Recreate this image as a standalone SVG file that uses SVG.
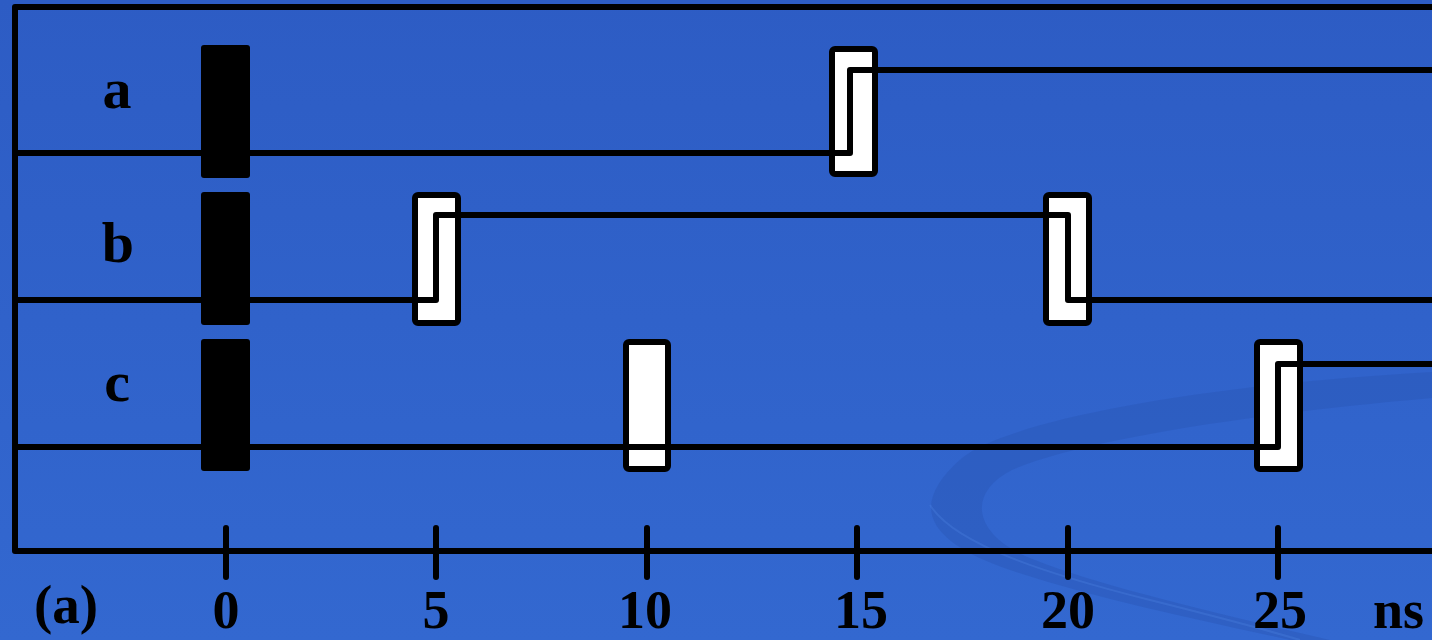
<svg xmlns="http://www.w3.org/2000/svg" width="1432" height="640" viewBox="0 0 1432 640">
  <defs>
    <linearGradient id="bg" x1="0" y1="0" x2="0" y2="1">
      <stop offset="0" stop-color="#2d5cc4"/>
      <stop offset="1" stop-color="#3368d0"/>
    </linearGradient>
    <style>
      .ln { fill: none; stroke: #000; stroke-width: 6; stroke-linejoin: round; stroke-linecap: butt; }
      .tick { stroke: #000; stroke-width: 6; stroke-linecap: round; }
      .blk { fill: #000; }
      .wbox { fill: #fff; stroke: #000; stroke-width: 6; }
      .lbl { font-family: "Liberation Serif", "Times New Roman", serif; font-weight: bold; fill: #000; }
    </style>
  </defs>
  <rect x="0" y="0" width="1432" height="640" fill="url(#bg)"/>
  <g id="swoosh">
    <path d="M1432,372 C1200,385 1010,420 962,458 C910,503 922,540 1010,570 C1100,600 1200,620 1290,640 L1330,640 C1210,612 1085,582 1025,556 C972,532 968,492 1012,470 C1080,440 1250,414 1432,398 Z" fill="#2a57b6" opacity="0.45"/>
    <path d="M930,505 C955,545 1050,575 1150,600 C1210,615 1260,628 1300,640" fill="none" stroke="#4a80e0" stroke-width="2" opacity="0.35"/>
  </g>
  <g id="frame">
    <path class="ln" d="M1432,7 H15 V551 H1432"/>
  </g>
  <g id="axis">
    <line class="tick" x1="226" y1="528" x2="226" y2="577"/>
    <line class="tick" x1="436" y1="528" x2="436" y2="577"/>
    <line class="tick" x1="647" y1="528" x2="647" y2="577"/>
    <line class="tick" x1="857" y1="528" x2="857" y2="577"/>
    <line class="tick" x1="1068" y1="528" x2="1068" y2="577"/>
    <line class="tick" x1="1278" y1="528" x2="1278" y2="577"/>
    <g class="lbl" font-size="54" text-anchor="middle">
      <text x="226" y="628">0</text>
      <text x="436" y="628">5</text>
      <text x="645" y="628">10</text>
      <text x="861" y="628">15</text>
      <text x="1068" y="628">20</text>
      <text x="1280" y="628">25</text>
    </g>
    <text class="lbl" font-size="54" x="1373" y="628">ns</text>
    <text class="lbl" font-size="55" x="34" y="623">(a)</text>
  </g>
  <g id="labels" class="lbl" font-size="58" text-anchor="middle">
    <text x="117" y="108">a</text>
    <text x="118" y="262">b</text>
    <text x="117" y="401">c</text>
  </g>
  <g id="node-a0"><rect class="blk" x="201" y="45" width="49" height="133" rx="3"/></g>
  <g id="node-b0"><rect class="blk" x="201" y="192" width="49" height="133" rx="3"/></g>
  <g id="node-c0"><rect class="blk" x="201" y="339" width="49" height="132" rx="3"/></g>
  <g id="node-a15"><rect class="wbox" x="832" y="49" width="43" height="125" rx="3"/></g>
  <g id="node-b5"><rect class="wbox" x="415" y="195" width="43" height="128" rx="3"/></g>
  <g id="node-b20"><rect class="wbox" x="1046" y="195" width="43" height="128" rx="3"/></g>
  <g id="node-c10"><rect class="wbox" x="626" y="342" width="42" height="127" rx="3"/></g>
  <g id="node-c25"><rect class="wbox" x="1257" y="342" width="43" height="127" rx="3"/></g>
  <g id="connectors">
    <path class="ln" d="M15,153 H850 V70 H1432"/>
    <path class="ln" d="M15,300 H436 V215 H1068 V300 H1432"/>
    <path class="ln" d="M15,447 H1278 V364 H1432"/>
  </g>
</svg>
